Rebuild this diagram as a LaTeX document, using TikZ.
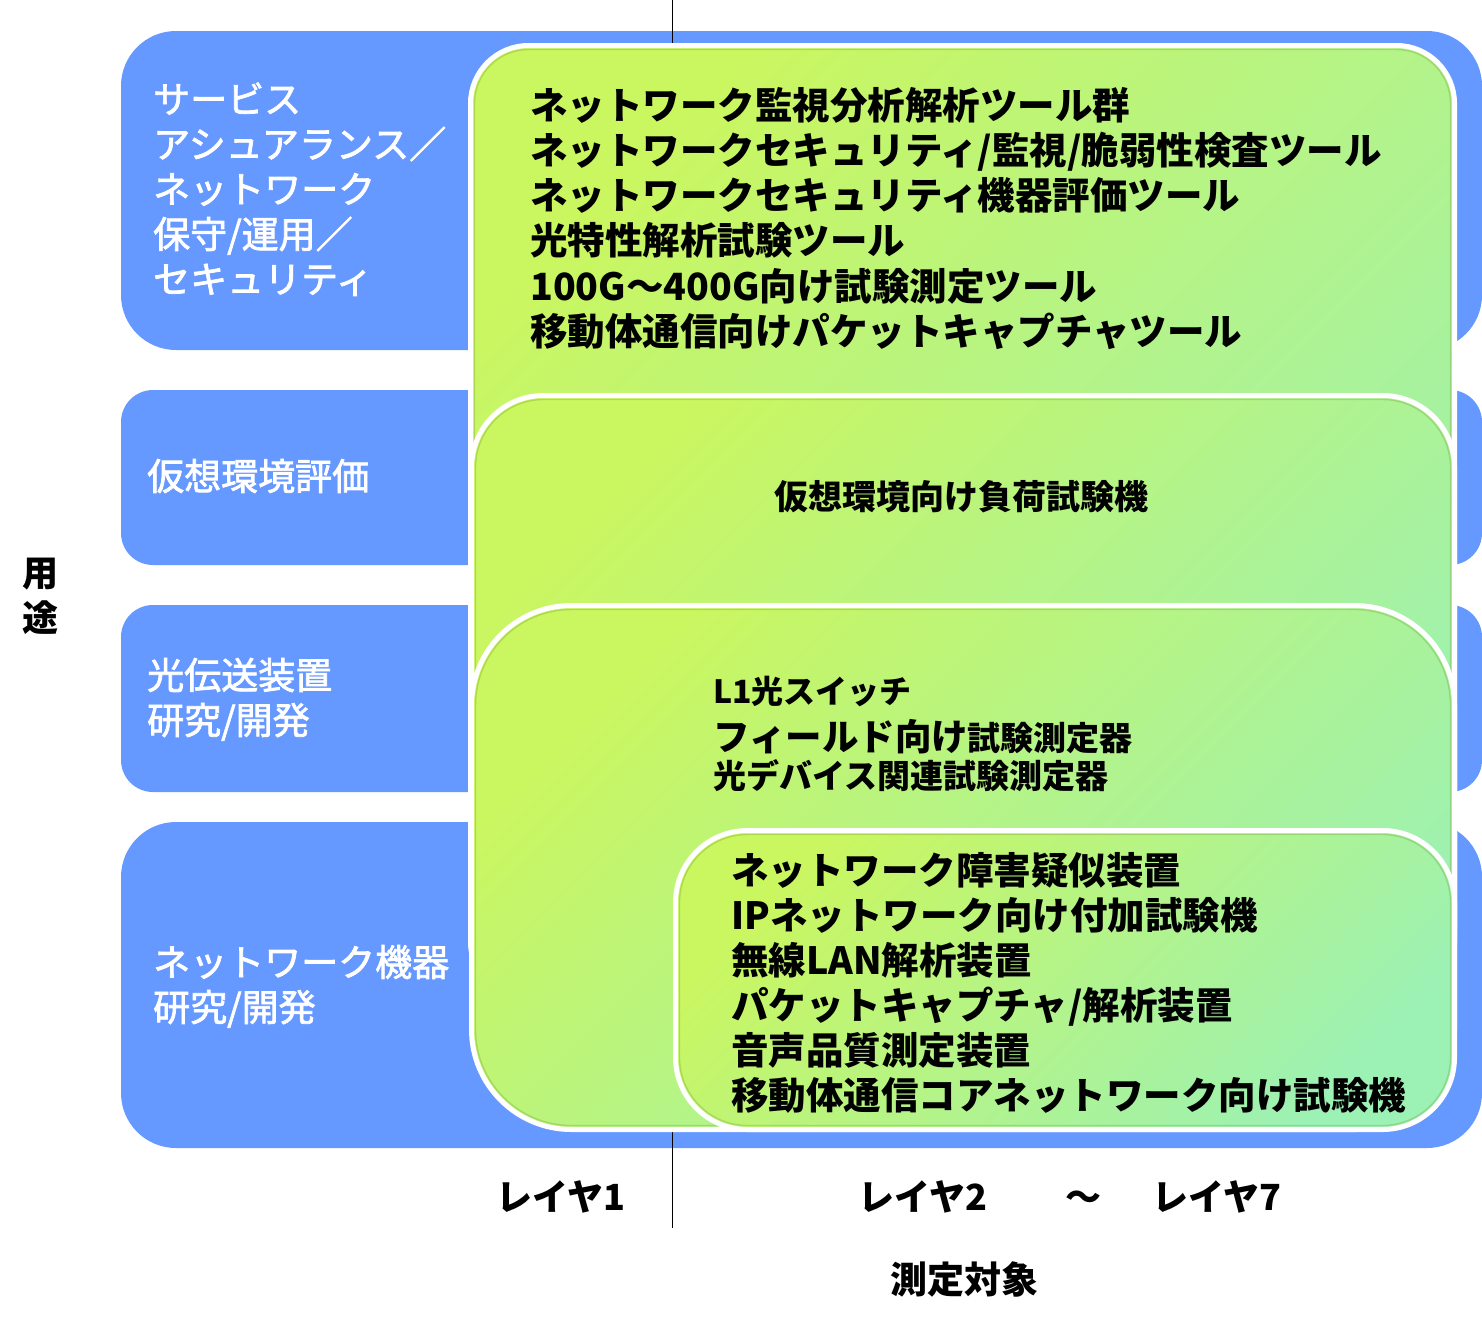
\documentclass[tikz,border=0pt]{standalone}
\usepackage{fontspec}
\setmainfont{Noto Sans CJK JP}
\newfontfamily\jpmed[FakeBold=2]{Noto Sans CJK JP}
\definecolor{myblue}{RGB}{102,153,255}
\definecolor{gA}{RGB}{202,246,96}
\definecolor{gM}{RGB}{199,246,101}
\definecolor{gB}{RGB}{156,241,180}
\definecolor{bevel}{RGB}{110,150,40}
\tikzset{
  bluebox/.style={fill=myblue},
  gpanel/.style={draw=white, line width=5pt, left color=gB, middle color=gM, right color=gA, shading angle=-135},
  ginner/.style={draw=bevel, draw opacity=0.3, line width=1.4pt},
  divider/.style={draw=black, line width=0.9pt},
  wlabel/.style={text=white, font=\jpmed\fontsize{37}{44}\selectfont, anchor=base west, inner sep=0pt},
  blabel/.style={text=black, font=\bfseries\fontsize{37.5}{44}\selectfont, anchor=base west, inner sep=0pt},
  clabel/.style={text=black, font=\bfseries\fontsize{36}{44}\selectfont, anchor=base, inner sep=0pt},
}
\begin{document}
\begin{tikzpicture}[x=1pt, y=-1pt]
\useasboundingbox (0,0) rectangle (1482,1323);
\fill[white] (0,0) rectangle (1482,1323);

% blue usage bands
\fill[bluebox, rounded corners=55pt] (121,31) rectangle (1482,350);
\fill[bluebox, rounded corners=32pt] (121,390) rectangle (1482,565);
\fill[bluebox, rounded corners=32pt] (121,605) rectangle (1482,792);
\fill[bluebox, rounded corners=55pt] (121,822) rectangle (1482,1148);

% divider between layer 1 and layers 2-7
\coordinate (vtop) at (672,0);
\coordinate (vbot) at (672,1228);
\draw[divider] (vtop) -- (vbot);

% green panels
\path[gpanel, rounded corners=58pt] (470.5,45.5) rectangle (1454.5,1000);
\draw[ginner, rounded corners=54pt] (474.5,49.5) rectangle (1450.5,996);
\path[gpanel, rounded corners=72pt] (471.5,395.5) rectangle (1454.5,1000);
\draw[ginner, rounded corners=68pt] (475.5,399.5) rectangle (1450.5,996);
\path[gpanel, rounded corners=100pt] (471.5,605.5) rectangle (1454.5,1129.5);
\draw[ginner, rounded corners=96pt] (475.5,609.5) rectangle (1450.5,1125.5);
\path[gpanel, rounded corners=72pt] (675.5,830.5) rectangle (1454.5,1129.5);
\draw[ginner, rounded corners=68pt] (679.5,834.5) rectangle (1450.5,1125.5);

% left axis label
\node[text=black, font=\bfseries\fontsize{36}{44}\selectfont, inner sep=0pt] (yo) at (41,574) {用};
\node[text=black, font=\bfseries\fontsize{36}{44}\selectfont, inner sep=0pt] (to) at (41,618) {途};

% white usage labels
\node[wlabel] (u1a) at (153,113) {サービス};
\node[wlabel] (u1b) at (153,158) {アシュアランス／};
\node[wlabel] (u1c) at (153,203) {ネットワーク};
\node[wlabel] (u1d) at (153,248) {保守/運用／};
\node[wlabel] (u1e) at (153,293) {セキュリティ};
\node[wlabel] (u2) at (147,490) {仮想環境評価};
\node[wlabel] (u3a) at (147,689) {光伝送装置};
\node[wlabel] (u3b) at (147,734) {研究/開発};
\node[wlabel] (u4a) at (153,976) {ネットワーク機器};
\node[wlabel] (u4b) at (153,1021) {研究/開発};

% panel A
\node[blabel] (a1) at (530,119) {ネットワーク監視分析解析ツール群};
\node[blabel] (a2) at (530,164) {ネットワークセキュリティ/監視/脆弱性検査ツール};
\node[blabel] (a3) at (530,209) {ネットワークセキュリティ機器評価ツール};
\node[blabel] (a4) at (530,254) {光特性解析試験ツール};
\node[blabel] (a5) at (530,300) {100G～400G向け試験測定ツール};
\node[blabel] (a6) at (530,345) {移動体通信向けパケットキャプチャツール};

% panel B
\node[text=black, font=\bfseries\fontsize{34}{44}\selectfont, anchor=base, inner sep=0pt] (b1) at (961,509) {仮想環境向け負荷試験機};

% panel C
\node[blabel, font=\bfseries\fontsize{32}{40}\selectfont] (c1) at (713,703) {L1光スイッチ};
\node[blabel, font=\bfseries\fontsize{36.5}{44}\selectfont] (c2) at (713,750) {フィールド向け{\fontsize{33}{40}\selectfont 試験測定器}};
\node[blabel, font=\bfseries\fontsize{33}{40}\selectfont] (c3) at (713,788) {光デバイス関連試験測定器};

% panel D
\node[blabel] (d1) at (731,884) {ネットワーク障害疑似装置};
\node[blabel] (d2) at (731,929) {IPネットワーク向け付加試験機};
\node[blabel] (d3) at (731,974) {無線LAN解析装置};
\node[blabel] (d4) at (731,1019) {パケットキャプチャ/解析装置};
\node[blabel] (d5) at (731,1064) {音声品質測定装置};
\node[blabel] (d6) at (731,1109) {移動体通信コアネットワーク向け試験機};

% bottom axis labels
\node[clabel] (l1) at (561,1210) {レイヤ1};
\node[clabel] (l2) at (923,1210) {レイヤ2};
\node[clabel] (tilde) at (1083,1210) {～};
\node[clabel] (l7) at (1217,1210) {レイヤ7};
\node[clabel, font=\bfseries\fontsize{37}{44}\selectfont] (meas) at (964,1293) {測定対象};
\end{tikzpicture}
\end{document}
